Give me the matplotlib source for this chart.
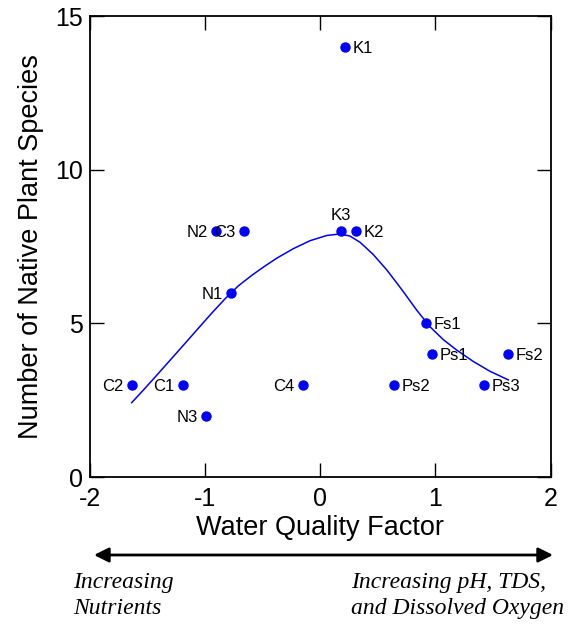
import numpy as np
import matplotlib.pyplot as plt

# Sites: water quality factor vs number of native plant species
sites = ['K1', 'K3', 'K2', 'N2', 'C3', 'N1', 'C2', 'C1', 'N3', 'C4',
         'Ps2', 'Fs1', 'Ps1', 'Fs2', 'Ps3']
wq = [0.22, 0.18, 0.31, -0.90, -0.66, -0.77, -1.63, -1.19, -0.99, -0.15,
      0.64, 0.92, 0.97, 1.63, 1.42]
species = [14, 8, 8, 8, 8, 6, 3, 3, 2, 3, 3, 5, 4, 4, 3]
# where each label sits relative to its point
label_side = ['right', 'above', 'right', 'left', 'left', 'left', 'left', 'left',
              'left', 'left', 'right', 'right', 'right', 'right', 'right']

# fitted curve
curve_x = [-1.634, -1.518, -1.403, -1.287, -1.171, -1.056, -0.940, -0.824,
           -0.709, -0.593, -0.492, -0.376, -0.232, -0.087, 0.058, 0.174,
           0.260, 0.347, 0.462, 0.579, 0.679, 0.723, 0.839, 0.954, 1.070,
           1.186, 1.330, 1.475, 1.634]
curve_y = [2.42, 2.89, 3.37, 3.86, 4.35, 4.84, 5.33, 5.80, 6.22, 6.56, 6.83,
           7.12, 7.43, 7.69, 7.86, 7.91, 7.84, 7.64, 7.24, 6.74, 6.25, 6.03,
           5.43, 4.89, 4.47, 4.13, 3.76, 3.44, 3.16]

plt.rcParams['font.family'] = ['Liberation Sans', 'DejaVu Sans']
plt.rcParams['axes.unicode_minus'] = False

fig = plt.figure(figsize=(5.72, 6.28), dpi=100)
ax = fig.add_axes([0.1565, 0.2404, 0.806, 0.734])

ax.plot(curve_x, curve_y, color='#0000ff', lw=1.1, zorder=2,
        solid_joinstyle='round')
ax.plot(wq, species, 'o', color='#0000ff', markersize=6.5, zorder=3)

for name, x, y, side in zip(sites, wq, species, label_side):
    if side == 'right':
        ax.annotate(name, (x, y), xytext=(5.5, 0), textcoords='offset points',
                    ha='left', va='center_baseline', fontsize=12)
    elif side == 'left':
        ax.annotate(name, (x, y), xytext=(-6, 0), textcoords='offset points',
                    ha='right', va='center_baseline', fontsize=12)
    else:
        ax.annotate(name, (x, y), xytext=(0, 6), textcoords='offset points',
                    ha='center', va='bottom', fontsize=12)

ax.set_xlim(-2, 2)
ax.set_ylim(0, 15)
ax.set_xticks([-2, -1, 0, 1, 2])
ax.set_yticks([0, 5, 10, 15])
ax.tick_params(direction='in', length=10, width=1, top=True, right=True,
               labelsize=18)
ax.tick_params(axis='x', pad=7)
ax.tick_params(axis='y', pad=5)
for s in ax.spines.values():
    s.set_linewidth(1.3)

ax.set_xlabel('Water Quality Factor', fontsize=19.5, labelpad=3)
ax.set_ylabel('Number of Native Plant Species', fontsize=19.5, labelpad=8)

# double arrow under the axis
ax.annotate('', xy=(553 / 572, 1 - 555 / 628), xytext=(94 / 572, 1 - 555 / 628),
            xycoords='figure fraction', textcoords='figure fraction',
            arrowprops=dict(arrowstyle='<|-|>', color='black', lw=2,
                            mutation_scale=22, shrinkA=0, shrinkB=0))

fig.text(73 / 572, 1 - 572 / 628, 'Increasing\nNutrients', ha='left', va='top',
         fontsize=17, style='italic', family='Liberation Serif', linespacing=1.3)
fig.text(351 / 572, 1 - 572 / 628, 'Increasing pH, TDS,\nand Dissolved Oxygen',
         ha='left', va='top', fontsize=17, style='italic',
         family='Liberation Serif', linespacing=1.3)

fig.savefig('out.png', dpi=100)
